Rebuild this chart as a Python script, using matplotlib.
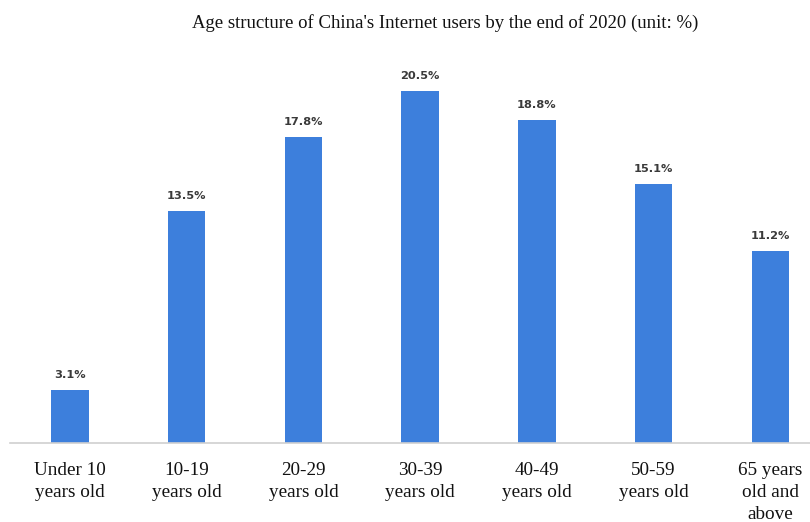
import matplotlib
matplotlib.use("Agg")
import matplotlib.pyplot as plt

categories = ["Under 10\nyears old", "10-19\nyears old", "20-29\nyears old", "30-39\nyears old",
              "40-49\nyears old", "50-59\nyears old", "65 years\nold and\nabove"]
values = [3.1, 13.5, 17.8, 20.5, 18.8, 15.1, 11.2]
labels = ["3.1%", "13.5%", "17.8%", "20.5%", "18.8%", "15.1%", "11.2%"]
title = "Age structure of China's Internet users by the end of 2020 (unit: %)"

W, H = 810, 522
fig = plt.figure(figsize=(W / 100, H / 100), dpi=100)
ax = fig.add_axes([10 / W, (H - 443) / H, 800 / W, 378 / H])

x = list(range(len(values)))
ax.bar(x, values, width=0.32, color="#3d7fdc", zorder=2)
ax.set_xlim(-0.514, 6.34)
ax.set_ylim(0, 22)

for xi, v, lab in zip(x, values, labels):
    ax.annotate(lab, (xi, v), xytext=(0, 7), textcoords="offset points",
                ha="center", va="bottom", fontsize=8.2, fontweight="bold",
                color="#3a3a3a", family="DejaVu Sans")

ax.set_xticks(x)
ax.set_xticklabels(categories, family="Liberation Serif", fontsize=13.8, color="#111111",
                   linespacing=1.38, va="top")
ax.tick_params(axis="x", length=0, pad=14)
ax.set_yticks([])
for s in ["top", "right", "left"]:
    ax.spines[s].set_visible(False)
ax.spines["bottom"].set_color("#d0d0d0")
ax.spines["bottom"].set_linewidth(1.2)

fig.text(445 / W, 1 - 23 / H, title, ha="center", va="center",
         family="Liberation Serif", fontsize=13.5, color="#111111")

fig.savefig("out.png", dpi=100, facecolor="white")
